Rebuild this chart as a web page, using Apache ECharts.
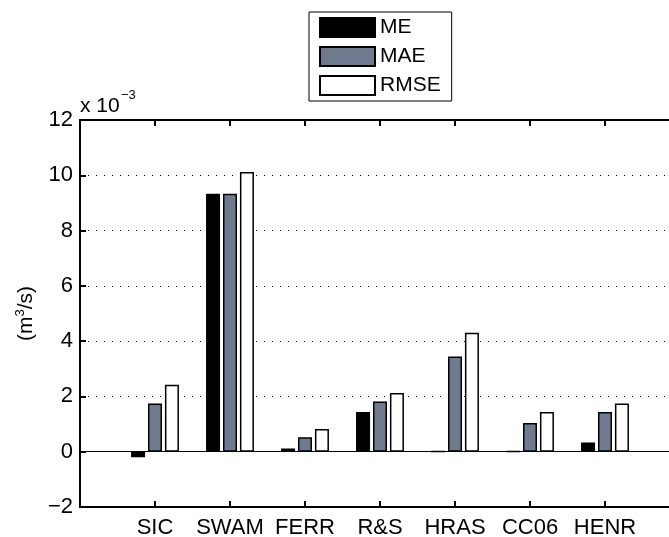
<!DOCTYPE html>
<html>
<head>
<meta charset="utf-8">
<script src="https://cdn.jsdelivr.net/npm/echarts@6/dist/echarts.min.js"></script>
<style>
html,body{margin:0;padding:0;background:#fff;}
#c{width:669px;height:537px;}
</style>
</head>
<body>
<div id="c"></div>
<script>
const categories = ['SIC', 'SWAM', 'FERR', 'R&S', 'HRAS', 'CC06', 'HENR'];
const ME   = [-0.2, 9.33, 0.12, 1.44, 0.01, 0.01, 0.33];
const MAE  = [1.74, 9.33, 0.52, 1.82, 3.44, 1.04, 1.44];
const RMSE = [2.42, 10.12, 0.82, 2.12, 4.30, 1.44, 1.74];
const yTicks = [-2, 0, 2, 4, 6, 8, 10, 12];

const FONT = 'Liberation Sans, Arial, Helvetica, sans-serif';
const chart = echarts.init(document.getElementById('c'), null, {renderer: 'canvas'});
const toPts = arr => arr.map((v, i) => [i + 1, v]);

function barSeries(name, arr, color, extra) {
  return Object.assign({
    name: name,
    type: 'bar',
    data: toPts(arr),
    barWidth: 14,
    barGap: '21%',
    itemStyle: {color: color, borderColor: '#000', borderWidth: 1.5},
    emphasis: {disabled: true},
    animation: false
  }, extra || {});
}

chart.setOption({
  animation: false,
  textStyle: {fontFamily: FONT},
  grid: {left: 80, top: 120, width: 600, height: 387, containLabel: false, outerBoundsMode: 'none'},
  legend: {
    orient: 'vertical',
    left: 309, top: 12,
    itemWidth: 55, itemHeight: 19, itemGap: 8,
    padding: [5, 11, 5, 10],
    borderColor: '#000', borderWidth: 1,
    backgroundColor: '#fff',
    icon: 'rect',
    textStyle: {fontSize: 21, color: '#000', fontFamily: FONT},
    data: ['ME', 'MAE', 'RMSE']
  },
  xAxis: [{
    type: 'value', position: 'bottom', min: 0, max: 8, interval: 1,
    axisLine: {show: true, onZero: false, lineStyle: {color: '#000', width: 2}},
    axisTick: {show: true, inside: true, length: 6, lineStyle: {color: '#000', width: 2}},
    axisLabel: {
      show: true, margin: 10, fontSize: 22, color: '#000', fontFamily: FONT,
      formatter: v => (v >= 1 && v <= categories.length) ? categories[v - 1] : ''
    },
    splitLine: {show: false}
  }, {
    type: 'value', position: 'top', min: 0, max: 8, interval: 1,
    axisLine: {show: true, onZero: false, lineStyle: {color: '#000', width: 2}},
    axisTick: {show: true, inside: true, length: 6, lineStyle: {color: '#000', width: 2}},
    axisLabel: {show: false},
    splitLine: {show: false}
  }],
  yAxis: {
    type: 'value', min: yTicks[0], max: yTicks[yTicks.length - 1], interval: 2,
    axisLine: {show: true, onZero: false, lineStyle: {color: '#000', width: 2}},
    axisTick: {show: true, inside: true, length: 6, lineStyle: {color: '#000', width: 2}},
    axisLabel: {
      margin: 7, fontSize: 22, color: '#000', fontFamily: FONT,
      formatter: v => String(v).replace('-', '\u2212')
    },
    splitLine: {show: true, lineStyle: {color: '#000', width: 1, type: [1, 7]}},
    name: '(m{sup|3}/s)',
    nameLocation: 'middle',
    nameRotate: 90,
    nameGap: 32,
    nameTextStyle: {
      fontSize: 21, color: '#000', fontFamily: FONT,
      rich: {sup: {fontSize: 13, color: '#000', fontFamily: FONT, padding: [0, 0, 12, 0]}}
    }
  },
  graphic: [
    {type: 'text', left: 80, top: 96, style: {text: 'x 10', font: '21px ' + FONT, fill: '#000'}},
    {type: 'text', left: 121, top: 89, style: {text: '\u22123', font: '13px ' + FONT, fill: '#000'}}
  ],
  series: [
    barSeries('ME', ME, '#000', {
      markLine: {
        silent: true, symbol: 'none', label: {show: false},
        lineStyle: {color: '#000', type: 'solid', width: 1},
        data: [{yAxis: 0}]
      }
    }),
    barSeries('MAE', MAE, 'rgb(112,122,142)'),
    barSeries('RMSE', RMSE, '#fff')
  ]
});
</script>
</body>
</html>
